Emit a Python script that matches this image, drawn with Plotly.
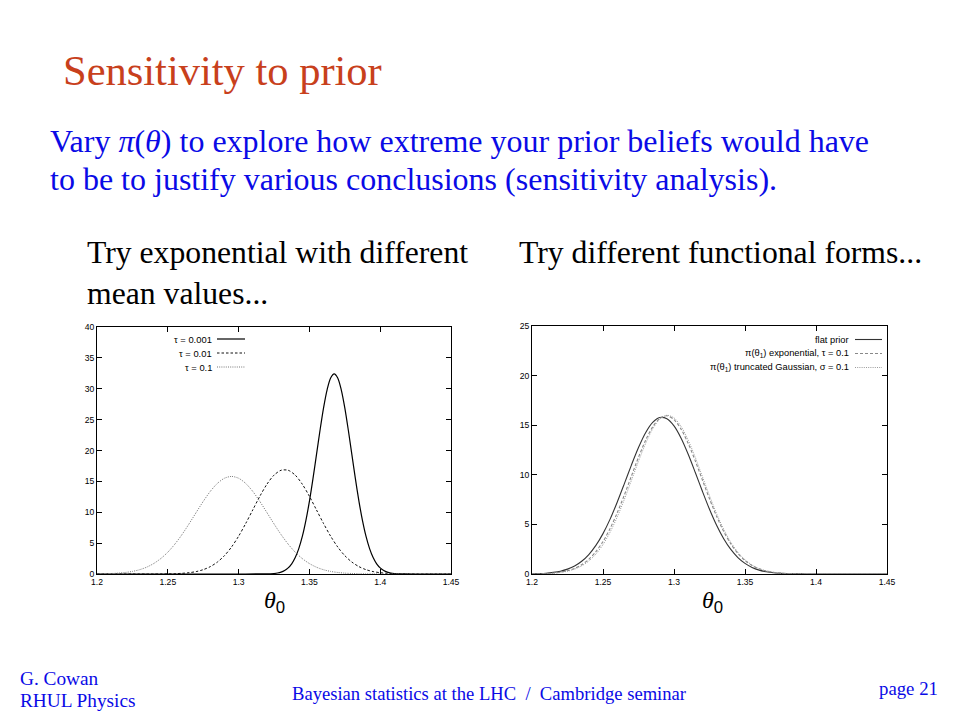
import plotly.graph_objects as go

# ---------------- data ----------------
theta_grid = [1.200, 1.205, 1.210, 1.215, 1.220, 1.225, 1.230, 1.235, 1.240, 1.245,
              1.250, 1.255, 1.260, 1.265, 1.270, 1.275, 1.280, 1.285, 1.290, 1.295,
              1.300, 1.305, 1.310, 1.315, 1.320, 1.325, 1.330, 1.335, 1.340, 1.345,
              1.350, 1.355, 1.360, 1.365, 1.370, 1.375, 1.380, 1.385, 1.390, 1.395,
              1.400, 1.405, 1.410, 1.415, 1.420, 1.425, 1.430, 1.435, 1.440, 1.445, 1.450]

# left panel: exponential prior, tau = 0.1 (dotted)
tau_01 = [0.02, 0.04, 0.08, 0.14, 0.25, 0.42, 0.69, 1.10, 1.69, 2.49,
          3.53, 4.84, 6.38, 8.12, 9.95, 11.75, 13.38, 14.67, 15.51, 15.80,
          15.51, 14.67, 13.38, 11.75, 9.95, 8.12, 6.38, 4.84, 3.53, 2.49,
          1.69, 1.10, 0.69, 0.42, 0.25, 0.14, 0.08, 0.04, 0.02, 0.01,
          0.0, 0.0, 0.0, 0.0, 0.0, 0.0, 0.0, 0.0, 0.0, 0.0, 0.0]

# left panel: tau = 0.01 (dashed)
tau_001 = [0.0, 0.0, 0.0, 0.0, 0.0, 0.0, 0.0, 0.0, 0.0, 0.01,
           0.02, 0.05, 0.11, 0.21, 0.39, 0.70, 1.19, 1.93, 2.97, 4.37,
           6.12, 8.17, 10.38, 12.59, 14.54, 16.01, 16.80, 16.80, 16.01, 14.54,
           12.59, 10.38, 8.17, 6.12, 4.37, 2.97, 1.93, 1.19, 0.70, 0.39,
           0.21, 0.11, 0.05, 0.02, 0.01, 0.0, 0.0, 0.0, 0.0, 0.0, 0.0]

# left panel: tau = 0.001 (solid), finer grid
theta_fine = [1.2000, 1.3000, 1.3175, 1.3200, 1.3225, 1.3250, 1.3275, 1.3300, 1.3325,
              1.3350, 1.3375, 1.3400, 1.3425, 1.3450, 1.3475, 1.3500, 1.3525,
              1.3550, 1.3575, 1.3600, 1.3625, 1.3650, 1.3675, 1.3700, 1.3725,
              1.3750, 1.3775, 1.3800, 1.3825, 1.3850, 1.3875, 1.3900, 1.3925,
              1.3950, 1.3975, 1.4000, 1.4025, 1.4050, 1.4075, 1.4100, 1.4125,
              1.4150, 1.4175, 1.4300, 1.4500]
tau_0001 = [0.0, 0.0, 0.01, 0.02, 0.04, 0.08, 0.16, 0.31, 0.57,
            0.99, 1.65, 2.66, 4.11, 6.08, 8.64, 11.77, 15.40,
            19.33, 23.28, 26.91, 29.83, 31.74, 32.40, 31.74, 29.83,
            26.91, 23.28, 19.33, 15.40, 11.77, 8.64, 6.08, 4.11,
            2.66, 1.65, 0.99, 0.57, 0.31, 0.16, 0.08, 0.04,
            0.02, 0.01, 0.0, 0.0]

# right panel
flat_prior = [0.02, 0.04, 0.08, 0.16, 0.28, 0.49, 0.80, 1.28, 1.96, 2.88,
              4.07, 5.53, 7.24, 9.09, 10.98, 12.75, 14.24, 15.28, 15.77, 15.65,
              14.93, 13.69, 12.07, 10.23, 8.34, 6.53, 4.92, 3.56, 2.48, 1.66,
              1.07, 0.66, 0.39, 0.22, 0.12, 0.07, 0.03, 0.02, 0.01, 0.0,
              0.0, 0.0, 0.0, 0.0, 0.0, 0.0, 0.0, 0.0, 0.0, 0.0, 0.0]
expo_prior = [0.01, 0.03, 0.05, 0.10, 0.19, 0.33, 0.57, 0.94, 1.48, 2.25,
              3.27, 4.58, 6.16, 7.95, 9.87, 11.77, 13.48, 14.84, 15.69, 15.95,
              15.57, 14.60, 13.16, 11.40, 9.48, 7.58, 5.82, 4.29, 3.04, 2.07,
              1.36, 0.85, 0.52, 0.30, 0.17, 0.09, 0.05, 0.02, 0.01, 0.0,
              0.0, 0.0, 0.0, 0.0, 0.0, 0.0, 0.0, 0.0, 0.0, 0.0, 0.0]
gauss_prior = [0.01, 0.02, 0.04, 0.08, 0.16, 0.28, 0.49, 0.82, 1.31, 2.01,
               2.97, 4.22, 5.74, 7.51, 9.43, 11.37, 13.16, 14.63, 15.61, 16.00,
               15.74, 14.87, 13.49, 11.75, 9.82, 7.89, 6.08, 4.50, 3.20, 2.18,
               1.43, 0.90, 0.54, 0.32, 0.18, 0.09, 0.05, 0.02, 0.01, 0.0,
               0.0, 0.0, 0.0, 0.0, 0.0, 0.0, 0.0, 0.0, 0.0, 0.0, 0.0]

x_ticks = [1.2, 1.25, 1.3, 1.35, 1.4, 1.45]
x_ticklabels = ["1.2", "1.25", "1.3", "1.35", "1.4", "1.45"]
y_ticks_left = [0, 5, 10, 15, 20, 25, 30, 35, 40]
y_ticks_right = [0, 5, 10, 15, 20, 25]

left_labels = ["τ = 0.001", "τ = 0.01", "τ = 0.1"]
right_labels = ["flat prior", "π(θ<sub>1</sub>) exponential, τ = 0.1",
                "π(θ<sub>1</sub>) truncated Gaussian, σ = 0.1"]

# ---------------- styles ----------------
W, H = 960, 720
def px(x):
    return x / W
def py(y):
    return 1 - y / H

SERIF = "Liberation Serif"
SANS = "Liberation Sans"

left_styles = [dict(color="black", width=1.2, dash="solid"),
               dict(color="#111111", width=1.0, dash="2.5px,2px"),
               dict(color="#777777", width=1.0, dash="1px,1.2px")]
right_styles = [dict(color="#333333", width=1.1, dash="solid"),
                dict(color="#888888", width=1.1, dash="3px,2px"),
                dict(color="#9a9a9a", width=1.0, dash="1px,1.2px")]

fig = go.Figure()

left_series = [(theta_fine, tau_0001), (theta_grid, tau_001), (theta_grid, tau_01)]
for (xs, ys), st, name in zip(left_series, left_styles, left_labels):
    fig.add_trace(go.Scatter(x=xs, y=ys, mode="lines", name=name,
                             line=dict(shape="spline", smoothing=0.8, **st),
                             xaxis="x", yaxis="y", showlegend=False))

right_series = [flat_prior, expo_prior, gauss_prior]
for ys, st, name in zip(right_series, right_styles, right_labels):
    fig.add_trace(go.Scatter(x=theta_grid, y=ys, mode="lines", name=name,
                             line=dict(shape="spline", smoothing=0.8, **st),
                             xaxis="x2", yaxis="y2", showlegend=False))

axis_common = dict(showline=True, linecolor="black", linewidth=1, mirror="ticks",
                   ticks="inside", ticklen=5, tickcolor="black", tickwidth=1,
                   showgrid=False, zeroline=False, automargin=False,
                   tickfont=dict(family=SANS, size=8.6, color="black"))

fig.update_layout(
    width=W, height=H,
    margin=dict(l=0, r=0, t=0, b=0, pad=0, autoexpand=False),
    paper_bgcolor="white", plot_bgcolor="white",
    showlegend=False,
    xaxis=dict(domain=[px(97), px(451)], range=[1.2, 1.45], anchor="y",
               tickvals=x_ticks, ticktext=x_ticklabels, **axis_common),
    yaxis=dict(domain=[py(574), py(327)], range=[0, 40], anchor="x",
               tickvals=y_ticks_left, **axis_common),
    xaxis2=dict(domain=[px(532), px(887)], range=[1.2, 1.45], anchor="y2",
                tickvals=x_ticks, ticktext=x_ticklabels, **axis_common),
    yaxis2=dict(domain=[py(574), py(326)], range=[0, 25], anchor="x2",
                tickvals=y_ticks_right, **axis_common),
)

ann = []
def text(x, y, s, size, color="black", family=SERIF, xanchor="left", yanchor="middle"):
    ann.append(dict(x=px(x), y=py(y), xref="paper", yref="paper", text=s,
                    showarrow=False, xanchor=xanchor, yanchor=yanchor, borderpad=0,
                    font=dict(family=family, size=size, color=color)))

RED = "#C8401C"
BLUE = "#0A0AE6"
BLUE_SIZE = 32.0
BLACK_SIZE = 31.7
text(62, 71, "Sensitivity to prior", 42.5, RED)
text(49, 141, "Vary <i>π</i>(<i>θ</i>) to explore how extreme your prior beliefs would have", BLUE_SIZE, BLUE)
text(49, 179, "to be to justify various conclusions (sensitivity analysis).", BLUE_SIZE, BLUE)
text(86, 253, "Try exponential with different", BLACK_SIZE)
text(86, 293, "mean values...", BLACK_SIZE)
text(518, 253, "Try different functional forms...", BLACK_SIZE)

theta0 = "<i>θ</i><sub><span style='font-family:Liberation Sans'>0</span></sub>"
text(274, 602, theta0, 24, xanchor="center")
text(712, 602, theta0, 24, xanchor="center")

text(19, 678, "G. Cowan", 19.3, BLUE)
text(19, 700, "RHUL Physics", 19.3, BLUE)
text(489, 693, "Bayesian statistics at the LHC  /  Cambridge seminar", 18.6, BLUE, xanchor="center")
text(939, 688, "page 21", 18.8, BLUE, xanchor="right")

# legends (gnuplot style: text on left, sample on right)
shapes = []
left_rows = [339, 353, 367]
for lab, st, yy in zip(left_labels, left_styles, left_rows):
    text(213, yy, lab, 9.4, family=SANS, xanchor="right")
    shapes.append(dict(type="line", xref="paper", yref="paper",
                       x0=px(217), x1=px(245), y0=py(yy), y1=py(yy),
                       line=st))
right_rows = [339.5, 353.5, 367.5]
for lab, st, yy in zip(right_labels, right_styles, right_rows):
    text(850, yy, lab, 9.3, family=SANS, xanchor="right")
    shapes.append(dict(type="line", xref="paper", yref="paper",
                       x0=px(855), x1=px(882), y0=py(yy), y1=py(yy),
                       line=st))

fig.update_layout(annotations=ann, shapes=shapes)

post = """
var de = document.documentElement, b = document.body;
de.style.margin='0'; de.style.padding='0'; de.style.overflow='hidden';
b.style.margin='0'; b.style.padding='0'; b.style.overflow='hidden';
var gd = document.getElementById('{plot_id}');
gd.style.position='fixed'; gd.style.left='0px'; gd.style.top='0px';
"""
fig.write_html("out.html", config={"displayModeBar": False}, post_script=post)
